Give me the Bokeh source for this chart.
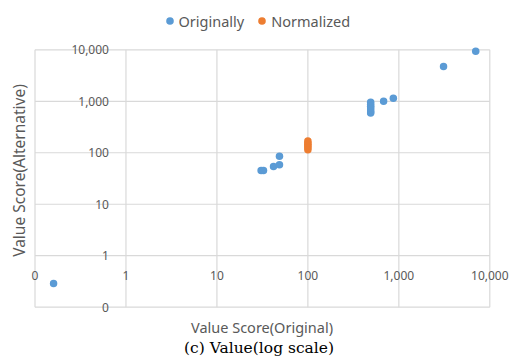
from math import pi, log10
from bokeh.plotting import figure
from bokeh.models import Range1d, ColumnDataSource, LabelSet, Label
from bokeh.core.properties import value
from bokeh.embed import file_html
from bokeh.resources import INLINE

# ---- data ----
orig_x = [0.16, 30.6, 32.5, 41.9, 48.7, 48.7, 490, 490, 490, 490, 490, 490, 490, 680, 870, 3100, 7000]
orig_y = [0.29, 45.2, 45.2, 54, 58.4, 85.7, 590, 620, 680, 740, 800, 870, 960, 1000, 1150, 4750, 9400]
norm_x = [100, 100, 100, 100, 100, 100]
norm_y = [115, 125, 135, 145, 155, 170]

x_ticks = [0.1, 1, 10, 100, 1000, 10000]
x_tick_labels = ["0", "1", "10", "100", "1,000", "10,000"]
y_ticks = [0.1, 1, 10, 100, 1000, 10000]
y_tick_labels = ["0", "1", "10", "100", "1,000", "10,000"]
axis_cross = 1  # axes cross at 1 (Excel style)

x_title = "Value Score(Original)"
y_title = "Value Score(Alternative)"
caption = "(c) Value(log scale)"
series_names = ["Originally", "Normalized"]
colors = ["#5B9BD5", "#ED7D31"]

# ---- layout / style ----
W, H = 515, 358
BOX_L, BOX_R, BOX_T, BOX_B = 34.5, 489.3, 49.3, 306.7   # plot box in pixels
FONT = "Noto Sans"
GRAY = "#595959"
GRID = "#d9d9d9"

lx0, lx1 = log10(x_ticks[0]), log10(x_ticks[-1])
ly0, ly1 = log10(y_ticks[0]), log10(y_ticks[-1])
xdec = (BOX_R - BOX_L) / (lx1 - lx0)
ydec = (BOX_B - BOX_T) / (ly1 - ly0)
x_range = Range1d(10 ** (lx0 - BOX_L / xdec), 10 ** (lx1 + (W - BOX_R) / xdec))
y_range = Range1d(10 ** (ly0 - (H - BOX_B) / ydec), 10 ** (ly1 + BOX_T / ydec))

p = figure(width=W, height=H, output_backend="svg", toolbar_location=None,
           x_axis_type="log", y_axis_type="log",
           x_axis_location=None, y_axis_location=None,
           x_range=x_range, y_range=y_range,
           min_border_left=0, min_border_right=0, min_border_top=0, min_border_bottom=0)
p.outline_line_color = None
p.background_fill_color = "white"
p.border_fill_color = "white"
p.xgrid.grid_line_color = None
p.ygrid.grid_line_color = None

# grid lines of the plot box, from the tick lists
nx, ny = len(x_ticks), len(y_ticks)
p.segment(x0=x_ticks, x1=x_ticks, y0=[y_ticks[0]] * nx, y1=[y_ticks[-1]] * nx,
          line_color=GRID, line_width=1.2)
p.segment(x0=[x_ticks[0]] * ny, x1=[x_ticks[-1]] * ny, y0=y_ticks, y1=y_ticks,
          line_color=GRID, line_width=1.2)

p.scatter(orig_x, orig_y, size=7.5, color=colors[0], line_color=None, legend_label=series_names[0])
p.scatter(norm_x, norm_y, size=7.5, color=colors[1], line_color=None, legend_label=series_names[1])

# tick labels placed where the axes cross (Excel style)
xsrc = ColumnDataSource(dict(x=x_ticks, y=[axis_cross] * nx, t=x_tick_labels))
ysrc = ColumnDataSource(dict(x=[axis_cross] * ny, y=y_ticks, t=y_tick_labels))
p.add_layout(LabelSet(x="x", y="y", text="t", source=xsrc, text_align="center",
                      text_baseline="middle", y_offset=-20, text_font=value(FONT),
                      text_font_size=value("12px"), text_color=GRAY))
p.add_layout(LabelSet(x="x", y="y", text="t", source=ysrc, text_align="right",
                      text_baseline="middle", x_offset=-17, text_font=value(FONT),
                      text_font_size=value("12px"), text_color=GRAY))

# axis titles and caption (screen units from bottom-left)
p.add_layout(Label(x=261.5, y=H - 326, x_units="screen", y_units="screen", text=x_title,
                   text_align="center", text_baseline="middle", text_font=FONT,
                   text_font_size="14.5px", text_color=GRAY))
p.add_layout(Label(x=18.3, y=H - 170, x_units="screen", y_units="screen", text=y_title, angle=pi / 2,
                   text_align="center", text_baseline="middle", text_font=FONT,
                   text_font_size="15.5px", text_color=GRAY))
p.add_layout(Label(x=258.5, y=H - 347, x_units="screen", y_units="screen", text=caption,
                   text_align="center", text_baseline="middle", text_font="DejaVu Serif",
                   text_font_size="15.5px", text_color="black"))

lg = p.legend[0]
lg.orientation = "horizontal"
lg.location = (159.5, H - 30.5)
lg.background_fill_alpha = 0
lg.border_line_color = None
lg.padding = 2
lg.margin = 0
lg.spacing = 8
lg.glyph_width = 19
lg.glyph_height = 19
lg.label_height = 19
lg.label_standoff = 0
lg.label_text_font = FONT
lg.label_text_font_size = "14.5px"
lg.label_text_color = GRAY

open("out.html", "w").write(file_html(p, INLINE))
